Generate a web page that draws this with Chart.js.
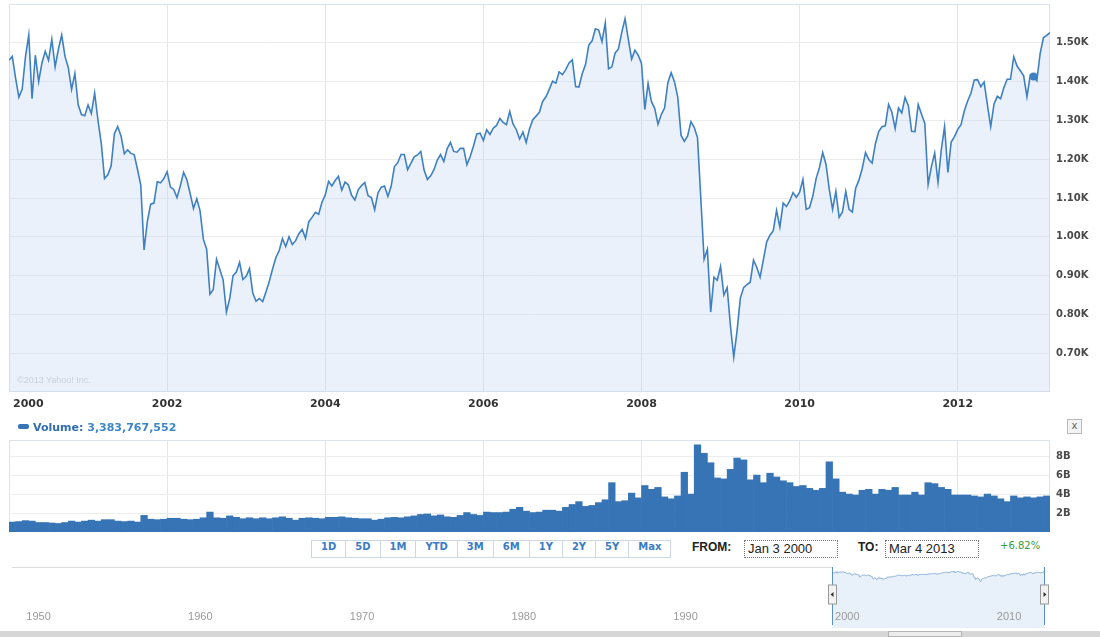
<!DOCTYPE html>
<html>
<head>
<meta charset="utf-8">
<script src="https://cdn.jsdelivr.net/npm/chart.js@4.4.1/dist/chart.umd.min.js"></script>
<style>
  html, body { margin: 0; padding: 0; background: #fff; }
  body { width: 1100px; height: 637px; position: relative; overflow: hidden; font-family: "DejaVu Sans", sans-serif; }
  canvas { position: absolute; left: 0; }
  #priceChart { top: 0; }
  #volumeChart { top: 420px; }
  #navChart { top: 562px; }
  .watermark { position: absolute; left: 17px; top: 375px; font: 9px "Liberation Sans", sans-serif; color: #c6d0dd; }
  .volume-label { position: absolute; left: 18px; top: 421px; font: bold 11px "DejaVu Sans", sans-serif; color: #2f6db3; white-space: nowrap; }
  .volume-label .swatch { display: inline-block; width: 11px; height: 5px; background: #3674b6; border-radius: 2px; vertical-align: 2px; margin-right: 4px; }
  .volume-label .num { color: #3c86c8; }
  .close-btn { position: absolute; left: 1067px; top: 419px; width: 13px; height: 13px; border: 1px solid #b8b8b8; background: #f3f3f3; font: 10px "DejaVu Sans", sans-serif; color: #666; text-align: center; line-height: 12px; }
  .ranges { position: absolute; left: 312px; top: 540px; display: flex; }
  .ranges span { display: block; height: 16px; line-height: 16px; padding: 0 9px; border: 1px solid #cdd7e2; margin-left: -1px; font: bold 10px "DejaVu Sans", sans-serif; color: #3b7cc4; background: #fff; }
  .lbl { position: absolute; top: 540px; line-height: 18px; font: bold 12px "Liberation Sans", sans-serif; color: #222; }
  .datebox { position: absolute; top: 540px; height: 16px; line-height: 16px; border: 1px dotted #777; padding: 0 3px; font: 13px "Liberation Sans Narrow", "Liberation Sans", sans-serif; color: #222; }
  .change { position: absolute; left: 1000px; top: 540px; line-height: 18px; font: 10px "DejaVu Sans", sans-serif; color: #3a9a3a; }
  .scrollbar { position: absolute; left: 0; top: 631px; width: 1100px; height: 6px; background: #d6d6d6; }
  .scrollbar .thumb { position: absolute; left: 888px; top: 0; width: 72px; height: 4px; background: #ececec; border: 1px solid #b5b5b5; }
</style>
</head>
<body>
<canvas id="priceChart" width="1100" height="415"></canvas>
<div class="watermark">©2013 Yahoo! Inc.</div>

<div class="volume-label"><span class="swatch"></span>Volume: <span class="num">3,383,767,552</span></div>
<div class="close-btn">x</div>
<canvas id="volumeChart" width="1100" height="117"></canvas>

<div class="ranges">
  <span>1D</span><span>5D</span><span>1M</span><span>YTD</span><span>3M</span><span>6M</span><span>1Y</span><span>2Y</span><span>5Y</span><span>Max</span>
</div>
<div class="lbl" style="left:692px">FROM:</div>
<div class="datebox" style="left:744px; width:86px">Jan 3 2000</div>
<div class="lbl" style="left:858px">TO:</div>
<div class="datebox" style="left:885px; width:86px">Mar 4 2013</div>
<div class="change">+6.82%</div>

<canvas id="navChart" width="1100" height="75"></canvas>
<div class="scrollbar"><div class="thumb"></div></div>

<script>
const p2000 = [1455, 1465, 1409, 1360, 1380, 1464, 1520, 1356, 1468, 1400, 1448, 1478, 1455, 1509, 1438, 1484, 1520, 1465, 1436, 1380, 1421, 1340, 1315, 1312];
const p2001 = [1340, 1318, 1370, 1301, 1241, 1150, 1160, 1183, 1266, 1284, 1260, 1214, 1224, 1215, 1212, 1174, 1133, 966, 1040, 1084, 1087, 1142, 1139, 1150];
const p2002 = [1168, 1128, 1122, 1101, 1131, 1166, 1147, 1111, 1073, 1098, 1067, 994, 968, 852, 864, 942, 916, 889, 806, 841, 900, 909, 934, 890];
const p2003 = [898, 918, 855, 834, 841, 833, 858, 885, 917, 946, 964, 995, 975, 1000, 980, 990, 1008, 1019, 996, 1039, 1050, 1063, 1058, 1089];
const p2004 = [1108, 1143, 1131, 1145, 1156, 1120, 1141, 1134, 1107, 1095, 1121, 1132, 1140, 1106, 1101, 1070, 1113, 1128, 1131, 1104, 1130, 1181, 1191, 1212];
const p2005 = [1212, 1173, 1189, 1206, 1211, 1220, 1172, 1148, 1157, 1173, 1198, 1212, 1194, 1227, 1243, 1220, 1218, 1228, 1228, 1186, 1207, 1234, 1265, 1267];
const p2006 = [1248, 1276, 1264, 1280, 1287, 1305, 1295, 1289, 1323, 1291, 1276, 1252, 1270, 1243, 1278, 1302, 1311, 1321, 1349, 1361, 1380, 1401, 1396, 1425];
const p2007 = [1418, 1431, 1448, 1456, 1387, 1386, 1420, 1444, 1494, 1505, 1536, 1533, 1503, 1551, 1433, 1438, 1474, 1484, 1527, 1562, 1509, 1458, 1481, 1468];
const p2008 = [1447, 1328, 1395, 1349, 1331, 1290, 1315, 1332, 1397, 1423, 1400, 1360, 1262, 1246, 1260, 1297, 1282, 1255, 1099, 942, 968, 806, 896, 888];
const p2009 = [924, 850, 869, 770, 690, 757, 842, 869, 877, 883, 940, 921, 896, 941, 987, 1004, 1016, 1068, 1025, 1087, 1078, 1093, 1114, 1102];
const p2010 = [1115, 1148, 1071, 1075, 1105, 1150, 1178, 1217, 1187, 1122, 1071, 1117, 1050, 1064, 1117, 1071, 1064, 1125, 1146, 1176, 1217, 1199, 1190, 1240];
const p2011 = [1271, 1284, 1286, 1341, 1321, 1279, 1332, 1319, 1359, 1338, 1272, 1271, 1341, 1316, 1292, 1135, 1181, 1216, 1140, 1224, 1284, 1166, 1244, 1258];
const p2012 = [1277, 1289, 1325, 1350, 1370, 1404, 1405, 1387, 1399, 1340, 1284, 1342, 1362, 1356, 1385, 1406, 1406, 1464, 1440, 1428, 1415, 1361, 1416, 1413];
const p2013 = [1402, 1472, 1513, 1519, 1526];
const priceYears = [
  [2000, p2000], [2001, p2001], [2002, p2002], [2003, p2003], [2004, p2004], [2005, p2005], [2006, p2006],
  [2007, p2007], [2008, p2008], [2009, p2009], [2010, p2010], [2011, p2011], [2012, p2012], [2013, p2013]
];

// Volume, billions of shares per day, one value per month
const v2000 = [1.05, 1.10, 1.20, 1.15, 1.00, 1.00, 0.95, 0.90, 1.00, 1.15, 1.05, 1.15];
const v2001 = [1.25, 1.15, 1.30, 1.30, 1.15, 1.10, 1.15, 1.05, 1.75, 1.35, 1.30, 1.35];
const v2002 = [1.45, 1.45, 1.35, 1.30, 1.35, 1.50, 2.10, 1.50, 1.45, 1.70, 1.55, 1.40];
const v2003 = [1.50, 1.40, 1.50, 1.40, 1.50, 1.60, 1.45, 1.25, 1.45, 1.50, 1.45, 1.40];
const v2004 = [1.55, 1.55, 1.60, 1.50, 1.45, 1.40, 1.40, 1.25, 1.35, 1.50, 1.55, 1.50];
const v2005 = [1.60, 1.70, 1.85, 1.90, 1.70, 1.80, 1.60, 1.55, 1.75, 2.05, 1.85, 1.75];
const v2006 = [2.10, 2.05, 2.05, 2.10, 2.40, 2.60, 2.20, 2.05, 2.10, 2.30, 2.30, 2.20];
const v2007 = [2.60, 2.90, 3.20, 2.70, 2.80, 3.10, 3.40, 5.20, 3.20, 3.30, 4.10, 3.60];
const v2008 = [4.90, 4.50, 4.70, 3.70, 3.50, 3.80, 6.30, 4.00, 9.20, 8.30, 7.30, 5.70];
const v2009 = [5.60, 6.60, 7.80, 7.60, 5.50, 6.00, 5.20, 6.20, 5.80, 5.40, 5.20, 4.80];
const v2010 = [4.90, 4.60, 4.40, 4.60, 7.40, 5.60, 4.20, 4.00, 3.90, 4.40, 4.50, 4.00];
const v2011 = [4.50, 4.40, 4.70, 3.90, 3.90, 4.20, 3.90, 5.20, 5.10, 4.70, 4.50, 3.90];
const v2012 = [3.90, 3.90, 3.80, 3.70, 4.00, 3.80, 3.50, 3.20, 3.80, 3.60, 3.70, 3.60];
const v2013 = [3.70, 3.80, 3.40];
const volumeYears = [
  [2000, v2000], [2001, v2001], [2002, v2002], [2003, v2003], [2004, v2004], [2005, v2005], [2006, v2006],
  [2007, v2007], [2008, v2008], [2009, v2009], [2010, v2010], [2011, v2011], [2012, v2012], [2013, v2013]
];

// Axis ticks
const xTicks = [2000, 2002, 2004, 2006, 2008, 2010, 2012];
const yTicks = [700, 800, 900, 1000, 1100, 1200, 1300, 1400, 1500];
const volTicks = [2, 4, 6, 8];
const navTicks = [1950, 1960, 1970, 1980, 1990, 2000, 2010];

// Hovered point (Dec 2012) and the selected range in the navigator
const hoverX = 2012 + 23 / 24;
const rangeFrom = 2000;

const pricePoints = [];
priceYears.forEach(([yr, vals]) => vals.forEach((v, i) => pricePoints.push({ x: yr + i / 24, y: v })));
const volumePoints = [];
volumeYears.forEach(([yr, vals]) => vals.forEach((v, i) => volumePoints.push({ x: yr + (i + 0.5) / 12, y: v })));
const lastX = pricePoints[pricePoints.length - 1].x;

const axisFont = { family: 'DejaVu Sans', size: 10, weight: 'bold' };

// keep the right axis from pushing the plot area in
function rightAxisFit(s) {
  s.width = 50;
  s.paddingTop = 0;
  s.paddingBottom = 0;
}

const plotFrame = {
  id: 'plotFrame',
  beforeDatasetsDraw(chart) {
    const a = chart.chartArea, ctx = chart.ctx;
    ctx.save();
    ctx.strokeStyle = '#dde3ea';
    ctx.lineWidth = 1;
    ctx.strokeRect(a.left + 0.5, a.top + 0.5, a.right - a.left - 1, a.bottom - a.top - 1);
    ctx.restore();
  }
};

const xLabels = {
  id: 'xLabels',
  afterDraw(chart) {
    const sc = chart.scales.x, ctx = chart.ctx;
    ctx.save();
    ctx.font = 'bold 11px "DejaVu Sans"';
    ctx.fillStyle = '#333';
    ctx.textBaseline = 'middle';
    xTicks.forEach((t, i) => {
      const px = sc.getPixelForValue(t);
      ctx.textAlign = i === 0 ? 'left' : 'center';
      ctx.fillText(String(t), i === 0 ? px + 4 : px, chart.chartArea.bottom + 12);
    });
    ctx.restore();
  }
};

new Chart(document.getElementById('priceChart'), {
  type: 'line',
  data: {
    datasets: [{
      data: pricePoints,
      borderColor: '#3f80c2',
      borderWidth: 1.6,
      backgroundColor: 'rgba(190,212,240,0.33)',
      fill: 'start',
      tension: 0,
      pointRadius: ctx => (ctx.raw && Math.abs(ctx.raw.x - hoverX) < 0.001 ? 4 : 0),
      pointBackgroundColor: '#3f80c2',
      pointBorderWidth: 0
    }]
  },
  options: {
    responsive: false,
    animation: false,
    devicePixelRatio: 1,
    layout: { padding: { left: 9, top: 4, right: 0, bottom: 0 } },
    plugins: { legend: { display: false }, tooltip: { enabled: false } },
    scales: {
      x: {
        type: 'linear', min: 2000, max: lastX,
        afterBuildTicks: s => { s.ticks = xTicks.map(v => ({ value: v })); },
        afterFit: s => { s.height = 23; },
        ticks: { display: false },
        grid: { color: '#e4e4e4', drawTicks: false },
        border: { display: false }
      },
      y: {
        position: 'right', min: 600, max: 1600,
        afterBuildTicks: s => { s.ticks = yTicks.map(v => ({ value: v })); },
        afterFit: rightAxisFit,
        ticks: { padding: 6, font: axisFont, color: '#4a4a4a', callback: v => (v / 1000).toFixed(2) + 'K' },
        grid: { color: '#ececec', drawTicks: false },
        border: { display: false }
      }
    }
  },
  plugins: [plotFrame, xLabels]
});

new Chart(document.getElementById('volumeChart'), {
  type: 'bar',
  data: {
    datasets: [{
      data: volumePoints,
      backgroundColor: '#3674b6',
      barPercentage: 1,
      categoryPercentage: 1
    }]
  },
  options: {
    responsive: false,
    animation: false,
    devicePixelRatio: 1,
    layout: { padding: { left: 9, top: 20, right: 0, bottom: 0 } },
    plugins: { legend: { display: false }, tooltip: { enabled: false } },
    scales: {
      x: {
        type: 'linear', min: 2000, max: lastX, offset: false,
        afterBuildTicks: s => { s.ticks = xTicks.map(v => ({ value: v })); },
        afterFit: s => { s.height = 5; },
        ticks: { display: false },
        grid: { color: '#e4e4e4', drawTicks: false, offset: false },
        border: { display: false }
      },
      y: {
        position: 'right', min: 0, max: 9.7,
        afterBuildTicks: s => { s.ticks = volTicks.map(v => ({ value: v })); },
        afterFit: rightAxisFit,
        ticks: { padding: 6, font: axisFont, color: '#4a4a4a', callback: v => v + 'B' },
        grid: { color: '#ededed', drawTicks: false },
        border: { display: false }
      }
    }
  },
  plugins: [plotFrame]
});

const navigatorDecor = {
  id: 'navigatorDecor',
  afterDraw(chart) {
    const sc = chart.scales.x, a = chart.chartArea, ctx = chart.ctx;
    const x1 = Math.round(sc.getPixelForValue(rangeFrom)) + 0.5;
    const x2 = Math.round(sc.getPixelForValue(lastX)) - 0.5;
    ctx.save();
    // top outline
    ctx.strokeStyle = '#dcdcdc';
    ctx.beginPath(); ctx.moveTo(12, a.top + 0.5); ctx.lineTo(x1, a.top + 0.5); ctx.stroke();
    // decade labels
    ctx.font = '11px "Liberation Sans"';
    ctx.fillStyle = '#9a9a9a';
    ctx.textAlign = 'left';
    ctx.textBaseline = 'middle';
    navTicks.forEach(t => ctx.fillText(String(t), sc.getPixelForValue(t) + 3, 55));
    // selected range edges and handles
    ctx.strokeStyle = '#5b8fcc';
    ctx.lineWidth = 1;
    [x1, x2].forEach(x => { ctx.beginPath(); ctx.moveTo(x, a.top); ctx.lineTo(x, a.bottom - 3); ctx.stroke(); });
    [[x1, -1], [x2, 1]].forEach(([x, dir]) => {
      ctx.fillStyle = '#f2f2f2';
      ctx.strokeStyle = '#999';
      ctx.fillRect(x - 4, 23, 8, 19);
      ctx.strokeRect(x - 4, 23, 8, 19);
      ctx.fillStyle = '#333';
      ctx.beginPath();
      ctx.moveTo(x + dir * 2, 32.5); ctx.lineTo(x - dir * 1, 30); ctx.lineTo(x - dir * 1, 35); ctx.closePath();
      ctx.fill();
    });
    ctx.restore();
  }
};

new Chart(document.getElementById('navChart'), {
  type: 'line',
  data: {
    datasets: [{
      data: pricePoints,
      borderColor: '#8fb2da',
      borderWidth: 1,
      backgroundColor: '#e8f0f9',
      fill: 'start',
      tension: 0,
      pointRadius: 0
    }]
  },
  options: {
    responsive: false,
    animation: false,
    devicePixelRatio: 1,
    layout: { padding: { left: 12, top: 5, right: 55, bottom: 9 } },
    plugins: { legend: { display: false }, tooltip: { enabled: false } },
    scales: {
      x: { type: 'linear', min: 1949.3, max: lastX, display: false },
      y: { type: 'logarithmic', min: 17, max: 2200, display: false }
    }
  },
  plugins: [navigatorDecor]
});
</script>
</body>
</html>
